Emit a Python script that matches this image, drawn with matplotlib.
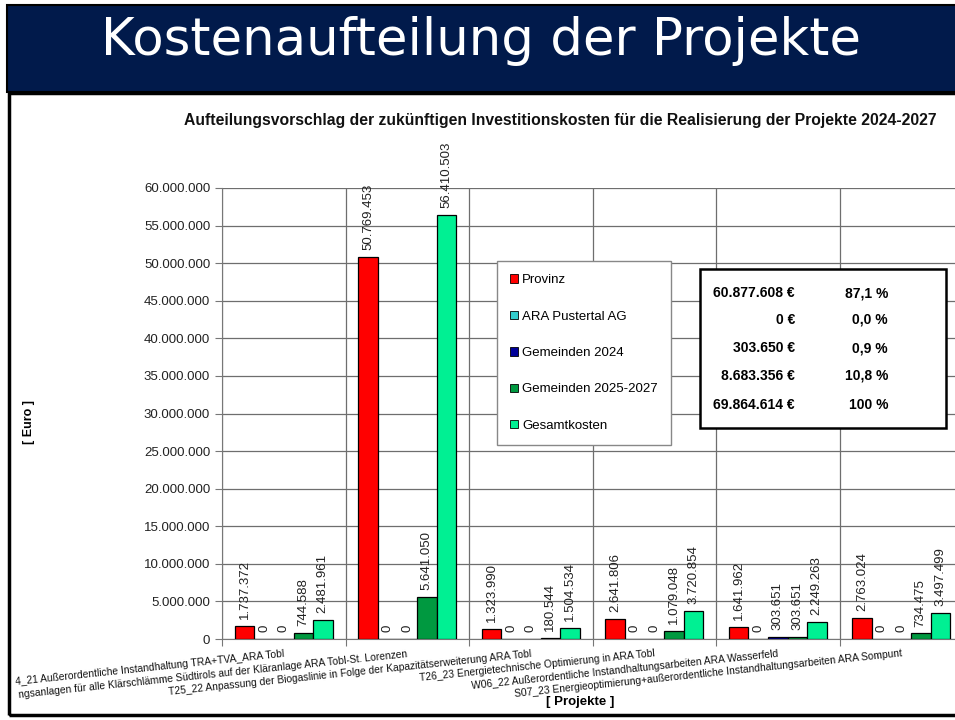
import numpy as np
import matplotlib.pyplot as plt
from matplotlib.patches import Rectangle, Patch

plt.rcParams["font.family"] = ["Liberation Sans", "DejaVu Sans"]

# Projekte (Kategorien) - links im Original abgeschnitten
projekte = [
    "4_21 Außerordentliche Instandhaltung TRA+TVA_ARA Tobl",
    "ngsanlagen für alle Klärschlämme Südtirols auf der Kläranlage ARA Tobl-St. Lorenzen",
    "T25_22 Anpassung der Biogaslinie in Folge der Kapazitätserweiterung ARA Tobl",
    "T26_23 Energietechnische Optimierung in ARA Tobl",
    "W06_22 Außerordentliche Instandhaltungsarbeiten ARA Wasserfeld",
    "S07_23 Energieoptimierung+außerordentliche Instandhaltungsarbeiten ARA Sompunt",
]

serien = ["Provinz", "ARA Pustertal AG", "Gemeinden 2024", "Gemeinden 2025-2027", "Gesamtkosten"]
farben = ["#ff0000", "#33cccc", "#000099", "#009940", "#00f093"]

provinz       = [1737372, 50769453, 1323990, 2641806, 1641962, 2763024]
ara_pustertal = [0, 0, 0, 0, 0, 0]
gemeinden24   = [0, 0, 0, 0, 303651, 0]
gemeinden2527 = [744588, 5641050, 180544, 1079048, 303651, 734475]
gesamt        = [2481961, 56410503, 1504534, 3720854, 2249263, 3497499]

summen   = ["60.877.608 €", "0 €", "303.650 €", "8.683.356 €", "69.864.614 €"]
prozente = ["87,1 %", "0,0 %", "0,9 %", "10,8 %", "100 %"]

W, H = 955, 720
fig = plt.figure(figsize=(W / 100, H / 100), dpi=100)
fig.patch.set_facecolor("white")

def fx(px): return px / W
def fy(py): return 1 - py / H

# Kopfzeile
fig.patches.append(Rectangle((fx(7), fy(92)), fx(960) - fx(7), fy(5) - fy(92),
                             transform=fig.transFigure, facecolor="#011a4b",
                             edgecolor="black", lw=1.5, zorder=0))
fig.text(fx(481), fy(55), "Kostenaufteilung der Projekte", color="white",
         fontsize=37, family="DejaVu Sans", ha="center", va="baseline")

# Rahmen
fig.patches.append(Rectangle((fx(9), fy(715)), fx(970) - fx(9), fy(93) - fy(715),
                             transform=fig.transFigure, facecolor="none",
                             edgecolor="black", lw=2.5, zorder=0))

ax = fig.add_axes([fx(222), fy(639), 6 * 123.5 / W, fy(188) - fy(639)])
ax.set_facecolor("none")

x = np.arange(len(projekte))
bw = 0.158
daten = [provinz, ara_pustertal, gemeinden24, gemeinden2527, gesamt]
for j, (werte, farbe) in enumerate(zip(daten, farben)):
    pos = x + (j - 2) * bw
    ax.bar(pos, werte, bw, color=farbe, edgecolor="black", lw=0.9, zorder=3)
    for p, v in zip(pos, werte):
        ax.annotate(f"{v:,}".replace(",", "."), (p, v), xytext=(0, 5),
                    textcoords="offset points", rotation=90, ha="center",
                    va="bottom", fontsize=9.5, color="#222222", annotation_clip=False)

ax.set_xlim(-0.5, 5.5)
ax.set_ylim(0, 60_000_000)
ax.set_yticks(np.arange(0, 60_000_001, 5_000_000))
ax.set_yticklabels([f"{int(t):,}".replace(",", ".") for t in ax.get_yticks()],
                   fontsize=9.5, color="#222222")
ax.set_xticks(np.arange(-0.5, 6, 1))
ax.set_xticklabels([])
ax.set_xticks(x, minor=True)
ax.set_xticklabels(projekte, minor=True, rotation=6, ha="right",
                   rotation_mode="anchor", fontsize=7.4, color="#111111")
ax.tick_params(axis="x", which="minor", length=0, pad=7)
ax.tick_params(axis="x", which="major", length=5, color="#777777")
ax.tick_params(axis="y", length=5, color="#777777")
ax.grid(True, color="#6e6e6e", lw=0.9, zorder=0)
for s in ["top", "right"]:
    ax.spines[s].set_visible(False)
for s in ["left", "bottom"]:
    ax.spines[s].set_color("#777777")

fig.text(fx(560), fy(120), "Aufteilungsvorschlag der zukünftigen Investitionskosten "
         "für die Realisierung der Projekte 2024-2027", fontsize=11.3,
         fontweight="bold", ha="center", va="center", color="#111111")
fig.text(fx(29), fy(422), "[ Euro ]", rotation=90, fontsize=9, fontweight="bold",
         ha="center", va="center")
fig.text(fx(580), fy(702), "[ Projekte ]", fontsize=9.5, fontweight="bold",
         ha="center", va="center")

# Legende
handles = [Patch(facecolor=c, edgecolor="black", lw=0.6) for c in farben]
leg = fig.legend(handles, serien, loc="upper left",
                 bbox_to_anchor=(fx(497), fy(261)), bbox_transform=fig.transFigure,
                 fontsize=9.5, handlelength=0.6, handleheight=0.6, handletextpad=0.3,
                 labelspacing=1.85, borderpad=1.0, borderaxespad=0, fancybox=False,
                 framealpha=1, edgecolor="#888888")
leg.get_frame().set_linewidth(1.0)
leg.set_zorder(5)

# Summenkasten
fig.patches.append(Rectangle((fx(700), fy(428)), fx(946) - fx(700), fy(269) - fy(428),
                             transform=fig.transFigure, facecolor="white",
                             edgecolor="black", lw=1.8, zorder=5))
zeilen_y = [293, 320, 348, 376, 405]
for yy, s, p in zip(zeilen_y, summen, prozente):
    fig.text(fx(795), fy(yy), s, fontsize=10, fontweight="bold", ha="right",
             va="center", zorder=6)
    fig.text(fx(888), fy(yy), p, fontsize=10, fontweight="bold", ha="right",
             va="center", zorder=6)

fig.savefig("out.png", dpi=100)
